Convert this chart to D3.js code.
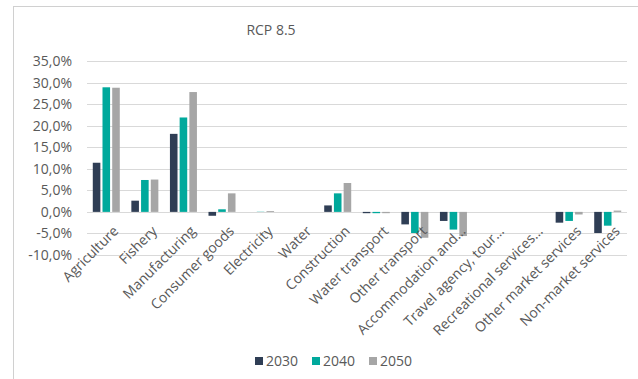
<!DOCTYPE html>
<html>
<head>
<meta charset="utf-8">
<script src="https://cdn.jsdelivr.net/npm/d3@7/dist/d3.min.js"></script>
<style>
  html, body { margin: 0; padding: 0; background: #ffffff; }
  svg { display: block; font-family: "Open Sans", "DejaVu Sans", sans-serif; }
</style>
</head>
<body>
<svg id="chart" width="638" height="379"></svg>
<script>
// Sector labels along the x axis
const categories = [
  "Agriculture", "Fishery", "Manufacturing", "Consumer goods", "Electricity",
  "Water", "Construction", "Water transport", "Other transport",
  "Accommodation and\u2026", "Travel agency, tour\u2026", "Recreational services\u2026",
  "Other market services", "Non-market services"
];

// Scenario years
const series = ["2030", "2040", "2050"];

// Change per sector, in percent
const values2030 = [11.4, 2.6, 18.1, -0.9, 0.0, 0.0, 1.5, -0.3, -2.9, -2.1, 0.0, 0.0, -2.5, -4.9];
const values2040 = [28.9, 7.4, 21.9, 0.6, 0.05, 0.0, 4.3, -0.3, -4.9, -4.1, 0.0, 0.0, -2.1, -3.2];
const values2050 = [28.8, 7.5, 27.8, 4.3, 0.2, 0.0, 6.7, -0.3, -6.0, -5.6, 0.0, 0.0, -0.6, 0.3];

// Axis ticks
const yTicks = [-10, -5, 0, 5, 10, 15, 20, 25, 30, 35];

const colors = { "2030": "#2f3e55", "2040": "#00a99c", "2050": "#a6a6a6" };
const seriesValues = { "2030": values2030, "2040": values2040, "2050": values2050 };

const svg = d3.select("#chart");
const textColor = "#595959";

// Chart frame (left and top edges)
svg.append("line").attr("x1", 13.5).attr("x2", 13.5).attr("y1", 6).attr("y2", 379)
  .attr("stroke", "#d0d0d0").attr("stroke-width", 1);
svg.append("line").attr("x1", 13).attr("x2", 638).attr("y1", 6.5).attr("y2", 6.5)
  .attr("stroke", "#d0d0d0").attr("stroke-width", 1);

const plot = { left: 87, right: 627, top: 61, bottom: 255 };

const y = d3.scaleLinear().domain([-10, 35]).range([plot.bottom, plot.top]);
const x0 = d3.scaleBand().domain(categories).range([plot.left, plot.right]);
const x1 = d3.scaleBand().domain(series).range([-13.5, 13.5]).paddingInner(0.22);

// Gridlines
svg.append("g").selectAll("line").data(yTicks).join("line")
  .attr("x1", plot.left).attr("x2", plot.right)
  .attr("y1", d => Math.round(y(d)) + 0.5).attr("y2", d => Math.round(y(d)) + 0.5)
  .attr("stroke", "#d9d9d9").attr("stroke-width", 1);

// Y axis labels
const yAxis = d3.axisLeft(y).tickValues(yTicks)
  .tickFormat(d => d.toFixed(1).replace(".", ",") + "%")
  .tickSize(0).tickPadding(0);
const yg = svg.append("g").attr("transform", `translate(${72},0)`).call(yAxis);
yg.select(".domain").remove();
yg.selectAll("text").attr("fill", textColor).style("font-size", "14px")
  .style("font-family", "\"Open Sans\", sans-serif");

// Bars
const groups = svg.append("g").selectAll("g").data(categories).join("g")
  .attr("transform", d => `translate(${x0(d) + x0.bandwidth() / 2},0)`);
groups.selectAll("rect")
  .data((d, i) => series.map(s => ({ s, v: seriesValues[s][i] })))
  .join("rect")
  .attr("x", d => x1(d.s))
  .attr("width", x1.bandwidth())
  .attr("y", d => y(Math.max(0, d.v)))
  .attr("height", d => Math.abs(y(d.v) - y(0)))
  .attr("fill", d => colors[d.s]);

// Category labels, rotated
const xAxis = d3.axisBottom(x0).tickSize(0).tickPadding(0);
const xg = svg.append("g").attr("transform", `translate(0,${y(0)})`).call(xAxis);
xg.select(".domain").remove();
xg.selectAll(".tick text")
  .attr("fill", textColor)
  .style("font-size", "14px")
  .style("font-family", "\"Open Sans\", sans-serif")
  .attr("text-anchor", "end")
  .attr("y", 0).attr("dy", "0.71em")
  .attr("transform", "translate(6,13) rotate(-45)");

// Title
svg.append("text").attr("x", 271).attr("y", 35).attr("text-anchor", "middle")
  .attr("fill", textColor).style("font-size", "14px").text("RCP 8.5");

// Legend
const legend = svg.append("g").attr("transform", "translate(255,361)");
const items = legend.selectAll("g").data(series).join("g")
  .attr("transform", (d, i) => `translate(${i * 57},0)`);
items.append("rect").attr("x", 0).attr("y", -4).attr("width", 8).attr("height", 8)
  .attr("fill", d => colors[d]);
items.append("text").attr("x", 11).attr("y", 0).attr("dy", "0.35em")
  .attr("fill", textColor).style("font-size", "14px").text(d => d);
</script>
</body>
</html>
